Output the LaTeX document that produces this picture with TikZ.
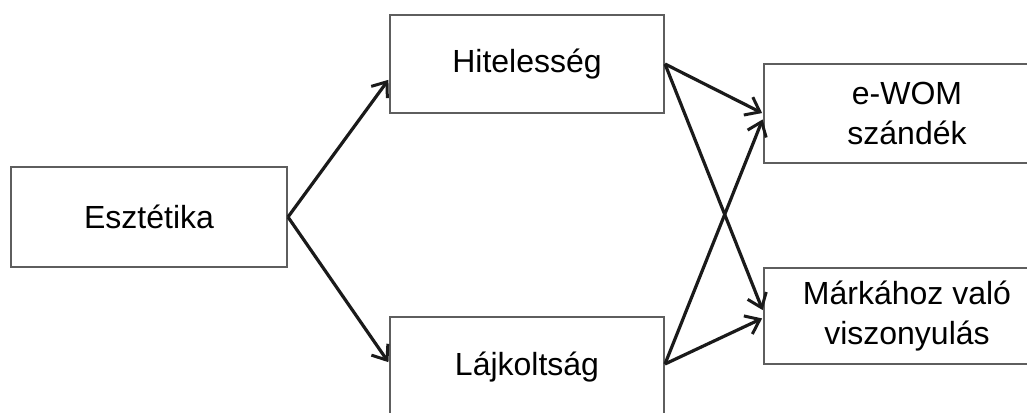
\documentclass[tikz,border=0pt]{standalone}
\usepackage{fontspec}
\setmainfont{Liberation Sans}
\usetikzlibrary{arrows.meta,calc}
\definecolor{boxline}{HTML}{5E5E5E}
\definecolor{arrowline}{HTML}{1A1A1A}
\begin{document}
\begin{tikzpicture}[x=1pt,y=-1pt,
  box/.style={draw=boxline,line width=2pt,fill=white,rectangle,anchor=north west,
    inner sep=0pt,align=center,text=black,
    font=\fontsize{32}{40}\selectfont},
  link/.style={draw=arrowline,line width=3.2pt,
    -{Straight Barb[length=13pt,width=20pt,line width=3pt]},shorten >=1pt}]
  \useasboundingbox (0,0) rectangle (1027,412);
  \clip (0,0) rectangle (1027,412);

  % boxes
  \node[box,minimum width=276pt,minimum height=100pt] (esz) at (10,166) {Esztétika};
  \node[box,minimum width=274pt,minimum height=98pt] (hit) at (389,14) {Hitelesség};
  \node[box,minimum width=274pt,minimum height=100pt] (laj) at (389,316) {Lájkoltság};
  \node[box,minimum width=286pt,minimum height=99pt] (ewom) at (763,63) {e-WOM\\szándék};
  \node[box,minimum width=286pt,minimum height=96pt] (mark) at (763,267) {Márkához való\\viszonyulás};

  % arrows
  \draw[link] (esz.east) -- ($(hit.west)+(0,15)$);
  \draw[link] (esz.east) -- ($(laj.west)+(0,-4)$);
  \draw[link] (hit.east) -- ($(ewom.west)+(0,0)$);
  \draw[link] (hit.east) -- ($(mark.west)+(0,-5)$);
  \draw[link] ($(laj.east)+(0,-3)$) -- ($(ewom.west)+(0,5)$);
  \draw[link] ($(laj.east)+(0,-3)$) -- ($(mark.west)+(0,2)$);
\end{tikzpicture}
\end{document}
